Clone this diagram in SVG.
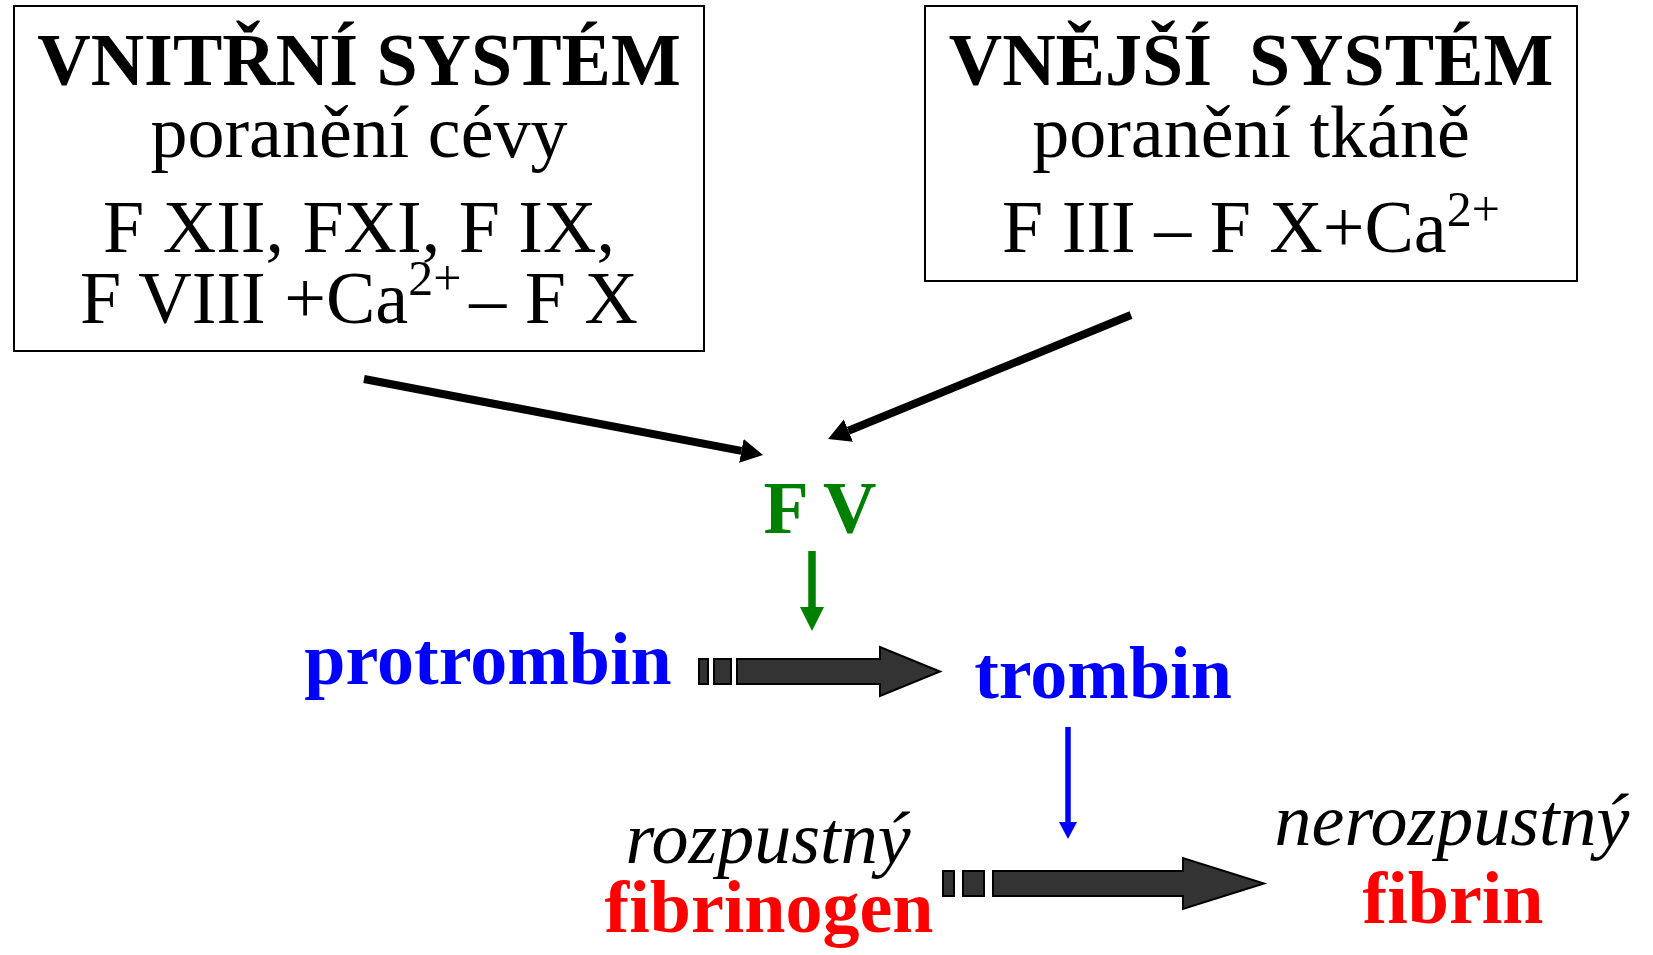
<svg xmlns="http://www.w3.org/2000/svg" width="1653" height="955" viewBox="0 0 1653 955">
<defs>
<style>
.box{fill:#fff;stroke:#000;stroke-width:2}
.t{font-family:"Liberation Serif","Times New Roman",serif;font-size:74px;text-anchor:middle}
.b{font-weight:bold}
.i{font-style:italic}
.blk{fill:#333;stroke:#000;stroke-width:2}
</style>
<marker id="hk" markerUnits="userSpaceOnUse" markerWidth="26" markerHeight="26" refX="0" refY="12" orient="auto"><path d="M0,0 L22,12 L0,24 Z" fill="#000"/></marker>
<marker id="hg" markerUnits="userSpaceOnUse" markerWidth="26" markerHeight="26" refX="0" refY="12" orient="auto"><path d="M0,0 L24,12 L0,24 Z" fill="#008000"/></marker>
<marker id="hb" markerUnits="userSpaceOnUse" markerWidth="20" markerHeight="20" refX="0" refY="9" orient="auto"><path d="M0,0 L17,9 L0,18 Z" fill="#0000ff"/></marker>
</defs>
<rect width="1653" height="955" fill="#fff"/>
<g id="vnitrni">
<rect class="box" x="14" y="6" width="690" height="345"/>
<text class="t b" x="359" y="85">VNITŘNÍ SYSTÉM</text>
<text class="t" x="359" y="157">poranění cévy</text>
<text class="t" x="359" y="252">F XII, FXI, F IX,</text>
<text class="t" x="359" y="323">F VIII +Ca<tspan font-size="50" dy="-28">2+</tspan><tspan dy="28" dx="8">– F X</tspan></text>
</g>
<g id="vnejsi">
<rect class="box" x="925" y="6" width="652" height="275"/>
<text class="t b" x="1251" y="85" xml:space="preserve">VNĚJŠÍ  SYSTÉM</text>
<text class="t" x="1251" y="157">poranění tkáně</text>
<text class="t" x="1251" y="252">F III – F X+Ca<tspan font-size="50" dy="-26">2+</tspan></text>
</g>
<g id="fv"><text class="t b" x="820" y="533" fill="#008000">F V</text></g>
<g id="protrombin"><text class="t b" x="488" y="684" fill="#0000ff">protrombin</text></g>
<g id="trombin"><text class="t b" x="1103" y="698" fill="#0000ff">trombin</text></g>
<g id="fibrinogen">
<text class="t i" x="768" y="863">rozpustný</text>
<text class="t b" x="769" y="932" fill="#ff0000">fibrinogen</text>
</g>
<g id="fibrin">
<text class="t i" x="1452" y="845">nerozpustný</text>
<text class="t b" x="1453" y="923" fill="#ff0000">fibrin</text>
</g>
<g id="connectors">
<line x1="364" y1="379" x2="741.4" y2="450.9" stroke="#000" stroke-width="8" marker-end="url(#hk)"/>
<line x1="1131" y1="315" x2="848.4" y2="430.7" stroke="#000" stroke-width="8" marker-end="url(#hk)"/>
<line x1="812" y1="551" x2="812" y2="607" stroke="#008000" stroke-width="7.5" marker-end="url(#hg)"/>
<line x1="1068" y1="727" x2="1068" y2="822" stroke="#0000ff" stroke-width="5.5" marker-end="url(#hb)"/>
<g id="block1">
<rect class="blk" x="699" y="659" width="9" height="25"/>
<rect class="blk" x="714" y="659" width="17" height="25"/>
<path class="blk" d="M737,659 H880 V647 L940,671.5 L880,696 V684 H737 Z"/>
</g>
<g id="block2">
<rect class="blk" x="943" y="871" width="11" height="25"/>
<rect class="blk" x="963" y="871" width="21" height="25"/>
<path class="blk" d="M993,871 H1183 V858 L1264,883.5 L1183,909 V896 H993 Z"/>
</g>
</g>
</svg>
